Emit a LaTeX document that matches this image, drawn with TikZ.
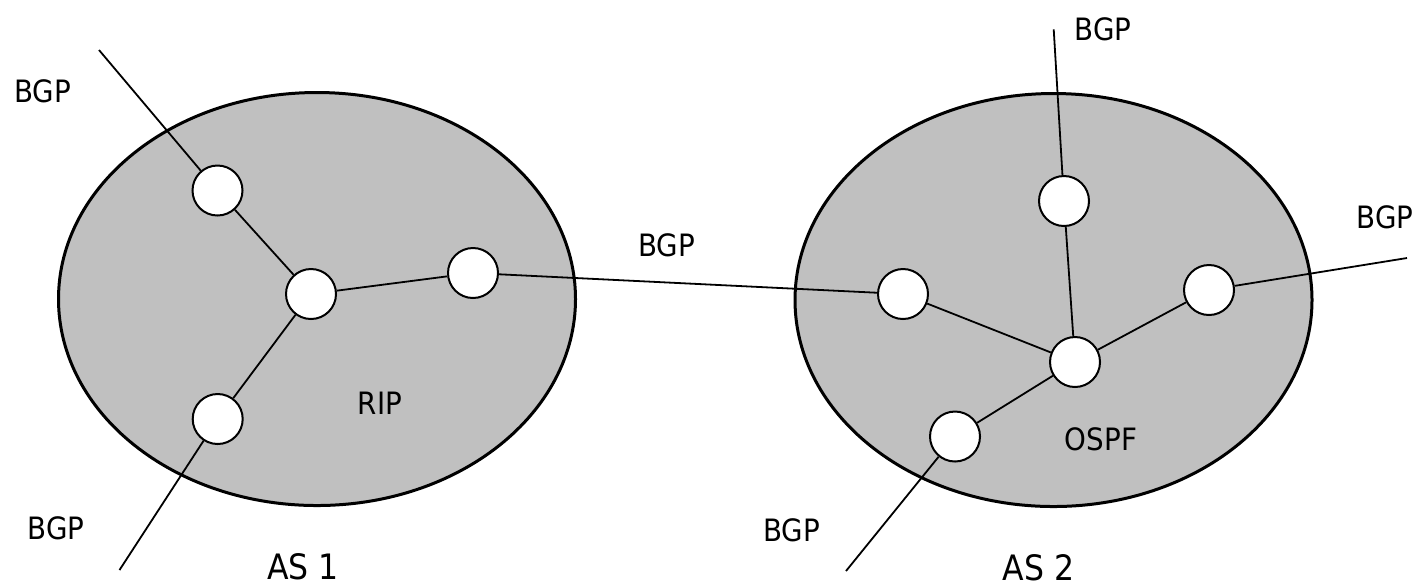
\documentclass[tikz,border=0pt]{standalone}
\usepackage{fontspec}
\setmainfont{DejaVu Sans}[FakeStretch=0.9]
\usepackage{tikz}
\usetikzlibrary{positioning,shapes.geometric}
\usepackage{xcolor}
\definecolor{asgray}{RGB}{192,192,192}

\begin{document}
\begin{tikzpicture}[x=0.5pt,y=-0.5pt]
	\useasboundingbox (0,0) rectangle (1416,586);
	\begin{scope}[every node/.style={ellipse,draw,line width=1.5pt,fill=asgray,minimum width=258.5pt,minimum height=206.5pt,inner sep=0pt}]
		\node (as1) at (317,299) {};
		\node (as2) at (1053.5,300) {};
	\end{scope}
	\begin{scope}[every node/.style={circle,draw,line width=1pt,fill=white,minimum size=25pt,inner sep=0pt}]
		\node (1) at (217.5,190.5) {};
		\node (2) at (311,294) {};
		\node (3) at (473,273) {};
		\node (4) at (217.7,419) {};
		
		\node (1b) at (903,294) {};
		\node (2b) at (1064,201) {};
		\node (3b) at (1209,290) {};
		\node (4b) at (1075,362) {};
		\node (5b) at (955,436.5) {};
	\end{scope}
	
	\coordinate (e1) at (99,50);
	\coordinate (e4) at (119.5,570);
	\coordinate (e2b) at (1053.7,29.3);
	\coordinate (e3b) at (1407,258);
	\coordinate (e5b) at (846,571);
	
	\begin{scope}[every edge/.style={draw,line width=0.9pt}]
		\draw (1) edge (e1);
		\draw (4) edge (e4);
		\draw (2) edge (1) (2) edge (3) (2) edge (4);
		
		\draw (3) edge (1b);
		
		\draw (4b) edge (1b) (4b) edge (2b) (4b) edge (3b) (4b) edge (5b);
		\draw (2b) edge (e2b);
		\draw (3b) edge (e3b);
		\draw (5b) edge (e5b);
	\end{scope}
	\begin{scope}[every node/.style={inner sep=0pt,font=\fontsize{15.4}{18}\selectfont}]
		\node (bgp1) at (42.7,91.5) {BGP};
		\node (bgp2) at (56,528.5) {BGP};
		\node (bgp3) at (666.5,245) {BGP};
		\node (bgp4) at (1103,29.5) {BGP};
		\node (bgp5) at (1385,217) {BGP};
		\node (bgp6) at (791.7,530.3) {BGP};
		\node (rip) at (380,403) {RIP};
		\node (ospf) at (1101,439.5) {OSPF};
		\node[font=\fontsize{17.5}{20}\selectfont] (name1) at (303,566.5) {AS 1};
		\node[font=\fontsize{17.5}{20}\selectfont] (name2) at (1038.7,567.5) {AS 2};
	\end{scope}
\end{tikzpicture}
\end{document}
